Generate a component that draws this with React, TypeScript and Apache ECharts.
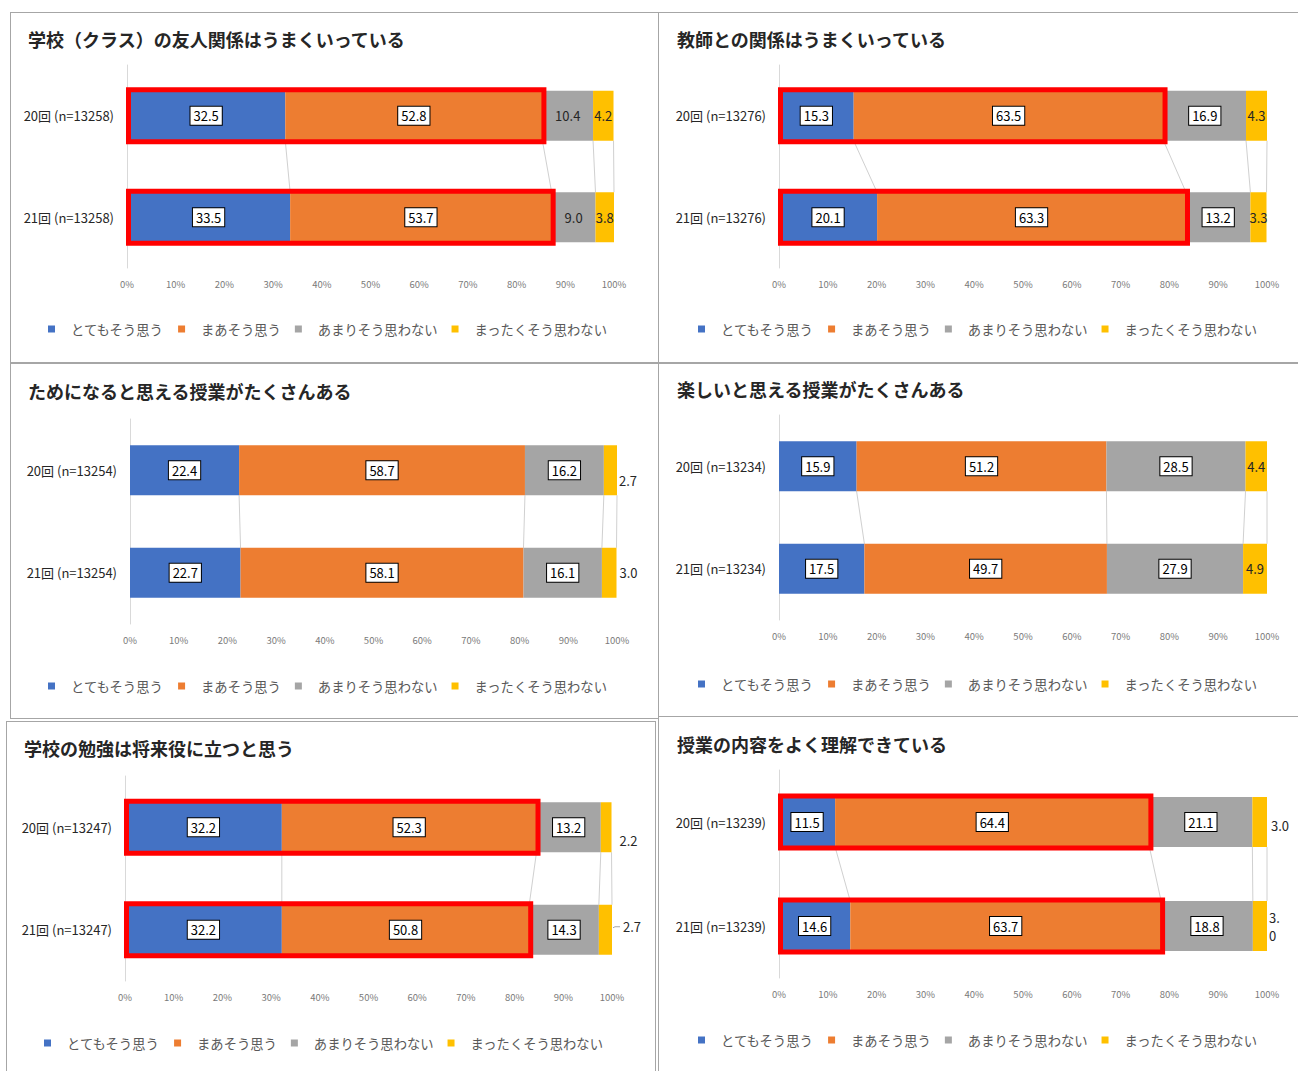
import React, { useEffect, useRef } from "react";
import * as echarts from "echarts";

// ---------- data ----------
const seriesNames = ["とてもそう思う", "まあそう思う", "あまりそう思わない", "まったくそう思わない"];
const panelTitles = [
  "学校（クラス）の友人関係はうまくいっている",
  "教師との関係はうまくいっている",
  "ためになると思える授業がたくさんある",
  "楽しいと思える授業がたくさんある",
  "学校の勉強は将来役に立つと思う",
  "授業の内容をよく理解できている",
];
const sampleSizes = [13258, 13276, 13254, 13234, 13247, 13239];
const roundLabels = ["20回", "21回"];
const round20 = [
  [32.5, 52.8, 10.4, 4.2],
  [15.3, 63.5, 16.9, 4.3],
  [22.4, 58.7, 16.2, 2.7],
  [15.9, 51.2, 28.5, 4.4],
  [32.2, 52.3, 13.2, 2.2],
  [11.5, 64.4, 21.1, 3.0],
];
const round21 = [
  [33.5, 53.7, 9.0, 3.8],
  [20.1, 63.3, 13.2, 3.3],
  [22.7, 58.1, 16.1, 3.0],
  [17.5, 49.7, 27.9, 4.9],
  [32.2, 50.8, 14.3, 2.7],
  [14.6, 63.7, 18.8, 3.0],
];
const highlighted = [true, true, false, false, true, true];
const xTickInterval = 10;

// ---------- style / layout ----------
const FONT = "'Noto Sans CJK JP', 'Noto Sans', sans-serif";
const COLORS = ["#4472C4", "#ED7D31", "#A5A5A5", "#FFC000"];
const BAR = 50;
const layouts = [
  { left: 127, top: 65, width: 487, height: 203, titleX: 28, titleY: 39, legendX: 48, legendY: 329 },
  { left: 779, top: 65, width: 488, height: 203, titleX: 677, titleY: 39, legendX: 698, legendY: 329 },
  { left: 130, top: 419, width: 487, height: 205, titleX: 28, titleY: 391, legendX: 48, legendY: 686 },
  { left: 779, top: 415, width: 488, height: 205, titleX: 677, titleY: 389, legendX: 698, legendY: 684 },
  { left: 125, top: 776, width: 487, height: 205, titleX: 24, titleY: 748, legendX: 44, legendY: 1043 },
  { left: 779, top: 770, width: 488, height: 208, titleX: 677, titleY: 744, legendX: 698, legendY: 1040 },
];
const grayBoxed = [false, true, true, true, true, true];
const yellowOutside: any[] = [
  null,
  null,
  [{ position: "right", distance: 2, offset: [0, 10] }, { position: "right", distance: 3 }],
  null,
  [{ position: "right", distance: 8, offset: [0, 13] }, { position: "right", distance: 11, offset: [0, -3] }],
  [{ position: "right", distance: 4, offset: [0, 3] }, { position: "right", distance: 2, width: 12, overflow: "break", lineHeight: 18 }],
];
// leader line for a displaced yellow label: [panel, row, yOffset]
const leaders = [[4, 1, -3]];

const fmt = (p: any) => Number(p.value).toFixed(1);
const boxLabel = {
  show: true,
  position: "inside",
  color: "#000",
  fontSize: 13,
  fontFamily: FONT,
  backgroundColor: "#fff",
  borderColor: "#000",
  borderWidth: 1,
  padding: [3, 3, 2, 3],
  formatter: fmt,
};
const plainLabel = {
  show: true,
  position: "inside",
  color: "#262626",
  fontSize: 13,
  fontFamily: FONT,
  formatter: fmt,
};

function buildOption() {
  const grid: any[] = [];
  const xAxis: any[] = [];
  const yAxis: any[] = [];
  const title: any[] = [];
  const legend: any[] = [];
  const series: any[] = [];

  layouts.forEach((L, i) => {
    grid.push({ left: L.left, top: L.top, width: L.width, height: L.height, containLabel: false, outerBoundsMode: "none" });
    xAxis.push({
      type: "value",
      gridIndex: i,
      min: 0,
      max: 100,
      interval: xTickInterval,
      axisLine: { show: false },
      axisTick: { show: false },
      splitLine: { show: false },
      axisLabel: { formatter: "{value}%", color: "#7a7a7a", fontSize: 9.5, fontFamily: FONT, margin: 11, showMinLabel: true, showMaxLabel: true },
    });
    yAxis.push({
      type: "category",
      gridIndex: i,
      inverse: true,
      data: roundLabels.map((r) => `${r} (n=${sampleSizes[i]})`),
      axisLine: { show: true, lineStyle: { color: "#d9d9d9", width: 1 } },
      axisTick: { show: false },
      axisLabel: { color: "#262626", fontSize: 13, fontFamily: FONT, margin: 13 },
    });
    title.push({
      text: panelTitles[i],
      left: L.titleX,
      top: L.titleY - 11,
      padding: 0,
      textStyle: { fontSize: 18, fontWeight: "bold", color: "#262626", fontFamily: FONT, lineHeight: 22 },
    });
    legend.push({
      left: L.legendX,
      top: L.legendY - 7,
      padding: 0,
      itemWidth: 7,
      itemHeight: 7,
      itemGap: 14,
      icon: "rect",
      data: seriesNames,
      textStyle: { color: "#595959", fontSize: 13.3, fontFamily: FONT, lineHeight: 14, padding: [0, 0, 0, 11] },
    });

    const rows = [round20[i], round21[i]];
    seriesNames.forEach((name, k) => {
      const data = rows.map((row, r) => {
        let label: any;
        if (k < 2 || (k === 2 && grayBoxed[i])) label = boxLabel;
        else if (k === 3 && yellowOutside[i]) label = { ...plainLabel, ...yellowOutside[i][r] };
        else label = plainLabel;
        return { value: row[k], label };
      });
      series.push({
        type: "bar",
        name,
        xAxisIndex: i,
        yAxisIndex: i,
        stack: "s" + i,
        barWidth: BAR,
        itemStyle: { color: COLORS[k] },
        data,
      });
    });

    // series lines between the two bars (Excel style)
    const cum20: number[] = [];
    const cum21: number[] = [];
    let a = 0;
    let b = 0;
    for (let k = 0; k < 4; k++) {
      a += round20[i][k];
      b += round21[i][k];
      cum20.push(Math.min(a, 100));
      cum21.push(Math.min(b, 100));
    }
    series.push({
      type: "custom",
      xAxisIndex: i,
      yAxisIndex: i,
      silent: true,
      z: 1,
      encode: { x: [0, 1], y: 2 },
      data: cum20.map((c, k) => [c, cum21[k], 0]),
      renderItem: (_p: any, api: any) => {
        const p1 = api.coord([api.value(0), 0]);
        const p2 = api.coord([api.value(1), 1]);
        return {
          type: "line",
          shape: { x1: p1[0], y1: p1[1] + BAR / 2, x2: p2[0], y2: p2[1] - BAR / 2 },
          style: { stroke: "#d0d0d0", lineWidth: 1 },
        };
      },
    });

    const myLeaders = leaders.filter((l) => l[0] === i);
    if (myLeaders.length) {
      series.push({
        type: "custom",
        xAxisIndex: i,
        yAxisIndex: i,
        silent: true,
        z: 3,
        encode: { x: 0, y: 1 },
        data: myLeaders.map((l) => [l[1] === 0 ? cum20[3] : cum21[3], l[1], l[2]]),
        renderItem: (_p: any, api: any) => {
          const p = api.coord([api.value(0), api.value(1)]);
          const y = p[1] + api.value(2);
          return {
            type: "polyline",
            shape: { points: [[p[0] + 1, y + 1], [p[0] + 3, y], [p[0] + 8, y]] },
            style: { stroke: "#a6a6a6", lineWidth: 1, fill: "none" },
          };
        },
      });
    }

    if (highlighted[i]) {
      series.push({
        type: "custom",
        xAxisIndex: i,
        yAxisIndex: i,
        silent: true,
        z: 5,
        encode: { x: [0, 1], y: 2 },
        data: rows.map((row, r) => [0, row[0] + row[1], r]),
        renderItem: (_p: any, api: any) => {
          const cat = api.value(2);
          const s = api.coord([api.value(0), cat]);
          const e = api.coord([api.value(1), cat]);
          return {
            type: "rect",
            shape: { x: s[0] + 1.5, y: s[1] - BAR / 2 - 1, width: e[0] - s[0], height: BAR + 2 },
            style: { fill: "none", stroke: "#FF0000", lineWidth: 5 },
          };
        },
      });
    }
  });

  const border = "#a6a6a6";
  const ln = (x1: number, y1: number, x2: number, y2: number, w = 1) => ({
    type: "line",
    silent: true,
    shape: { x1, y1, x2, y2 },
    style: { stroke: border, lineWidth: w },
  });
  const graphic = [
    ln(10, 12.5, 1298, 12.5),
    ln(10.5, 12, 10.5, 363),
    ln(658.5, 12, 658.5, 1071),
    ln(10, 363, 1298, 363, 2),
    ln(10.5, 363, 10.5, 718),
    ln(10, 718.5, 658, 718.5),
    ln(658, 716.5, 1298, 716.5),
    ln(6, 721.5, 655, 721.5),
    ln(6.5, 721, 6.5, 1071),
    ln(655.5, 721, 655.5, 1071),
  ];

  return {
    animation: false,
    backgroundColor: "#ffffff",
    title,
    legend,
    grid,
    xAxis,
    yAxis,
    series,
    graphic,
  };
}

export default function App() {
  const ref = useRef<HTMLDivElement>(null);
  useEffect(() => {
    if (!ref.current) return;
    const chart = echarts.init(ref.current, null, { renderer: "svg" });
    chart.setOption(buildOption() as any);
    return () => chart.dispose();
  }, []);
  return (
    <div
      ref={ref}
      style={{ position: "absolute", left: 0, top: 0, width: 1298, height: 1071, background: "#fff" }}
    />
  );
}
